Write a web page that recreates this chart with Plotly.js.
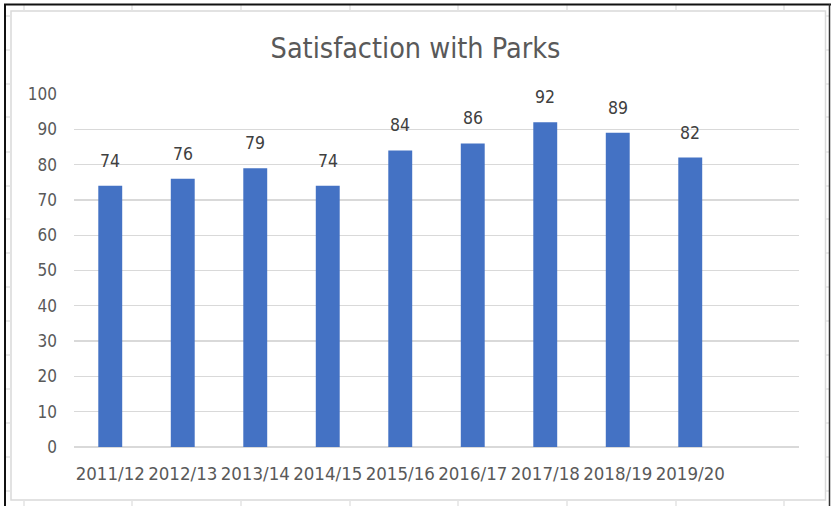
<!DOCTYPE html>
<html>
<head>
<meta charset="utf-8">
<script src="https://cdn.plot.ly/plotly-3.0.1.min.js"></script>
<style>
html,body{margin:0;padding:0;background:#fff;}
#chart{width:831px;height:506px;}
</style>
</head>
<body>
<div id="chart"></div>
<script>
const categories = ["2011/12","2012/13","2013/14","2014/15","2015/16","2016/17","2017/18","2018/19","2019/20"];
const satisfaction = [74, 76, 79, 74, 84, 86, 92, 89, 82];
const yTicks = [0,10,20,30,40,50,60,70,80,90,100];

const W = 831, H = 506;
const L = 74, R = 32, T = 94, B = 59;
const PW = W - L - R, PH = H - T - B;
const px = x => (x - L) / PW;
const py = y => (H - B - y) / PH;

const xIdx = categories.map((c, i) => i);
const FONT = "Liberation Sans Narrow, DejaVu Sans Condensed, Arial Narrow, sans-serif";

const shapes = [];
const cellCol = "#e3e3e3";
// excel cell gridline stubs outside the chart area
[24,132,241,350,458,567,676,784].forEach(x => {
  shapes.push({type:"line", xref:"paper", yref:"paper", x0:px(x), x1:px(x), y0:py(5), y1:py(11), line:{color:cellCol, width:1.5}});
  shapes.push({type:"line", xref:"paper", yref:"paper", x0:px(x), x1:px(x), y0:py(500), y1:py(506), line:{color:cellCol, width:1.5}});
});
[16,50,84,117,152,186,219,253,287,321,355,389,423,457,491].forEach(y => {
  shapes.push({type:"line", xref:"paper", yref:"paper", x0:px(6), x1:px(11), y0:py(y), y1:py(y), line:{color:cellCol, width:1.5}});
  shapes.push({type:"line", xref:"paper", yref:"paper", x0:px(826), x1:px(830), y0:py(y), y1:py(y), line:{color:cellCol, width:1.5}});
});
// chart area border
shapes.push({type:"rect", xref:"paper", yref:"paper", x0:px(11), x1:px(825.5), y0:py(11), y1:py(500), line:{color:"#d9d9d9", width:1.5}, fillcolor:"rgba(0,0,0,0)", layer:"below"});
// black window border
shapes.push({type:"line", xref:"paper", yref:"paper", x0:px(4), x1:px(831), y0:py(4.5), y1:py(4.5), line:{color:"#111", width:2}});
shapes.push({type:"line", xref:"paper", yref:"paper", x0:px(5), x1:px(5), y0:py(4), y1:py(506), line:{color:"#111", width:2}});
shapes.push({type:"line", xref:"paper", yref:"paper", x0:px(829.5), x1:px(829.5), y0:py(4), y1:py(506), line:{color:"#333", width:1.5}});

const annotations = xIdx.map((x, i) => ({
  x: x, y: satisfaction[i], xref:"x", yref:"y",
  text: String(satisfaction[i]), showarrow:false,
  yanchor:"bottom", yshift: 13,
  font:{family:FONT, size:17.5, color:"#404040"}
}));

const data = [{
  type:"bar", x:xIdx, y:satisfaction, width:0.33,
  marker:{color:"#4472C4"}, hoverinfo:"skip"
}];

const layout = {
  width: W, height: H,
  margin:{l:L, r:R, t:T, b:B, pad:0},
  paper_bgcolor:"#ffffff", plot_bgcolor:"#ffffff",
  showlegend:false,
  title:{text:"Satisfaction with Parks", font:{family:FONT, size:28.5, color:"#595959"}, x:0.5, xanchor:"center", y:1-48/H, yanchor:"middle"},
  xaxis:{
    range:[-0.5, 9.5], tickmode:"array", tickvals:xIdx, ticktext:categories,
    showgrid:false, zeroline:false, showline:false, ticks:"", tickangle:0,
    tickfont:{family:FONT, size:18.5, color:"#595959"}, ticklabelstandoff:13, fixedrange:true
  },
  yaxis:{
    range:[0,100], tickmode:"array", tickvals:yTicks, ticktext:yTicks.map(String),
    showgrid:true, gridcolor:"#d9d9d9", gridwidth:1.3, zeroline:true, zerolinecolor:"#d9d9d9", zerolinewidth:1.3,
    showline:false, ticks:"",
    tickfont:{family:FONT, size:17, color:"#595959"}, ticklabelstandoff:16, fixedrange:true
  },
  shapes: shapes,
  annotations: annotations
};

Plotly.newPlot("chart", data, layout, {displayModeBar:false, staticPlot:true});
</script>
</body>
</html>
